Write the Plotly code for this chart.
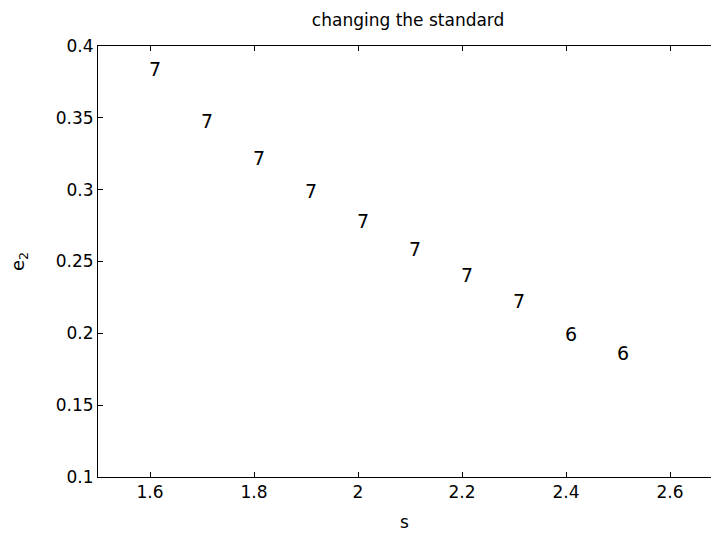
import plotly.graph_objects as go

# s values and the resulting e2, each point labelled with its count
s_vals = [1.6, 1.7, 1.8, 1.9, 2.0, 2.1, 2.2, 2.3, 2.4, 2.5]
e2_vals = [0.3843, 0.3481, 0.3217, 0.2994, 0.2785, 0.2584, 0.2405, 0.2224, 0.1992, 0.1860]
counts = ["7", "7", "7", "7", "7", "7", "7", "7", "6", "6"]

x_ticks = [1.6, 1.8, 2.0, 2.2, 2.4, 2.6]
x_tick_text = ["1.6", "1.8", "2", "2.2", "2.4", "2.6"]
y_ticks = [0.1, 0.15, 0.2, 0.25, 0.3, 0.35, 0.4]
y_tick_text = ["0.1", "0.15", "0.2", "0.25", "0.3", "0.35", "0.4"]

FONT = "DejaVu Sans"

fig = go.Figure()
fig.add_trace(go.Scatter(x=s_vals, y=e2_vals, mode="markers",
                         marker=dict(size=1, opacity=0), hoverinfo="skip",
                         showlegend=False))

# count labels, left-aligned at each (s, e2) point
for s, e, c in zip(s_vals, e2_vals, counts):
    fig.add_annotation(x=s, y=e, text=c, showarrow=False,
                       xanchor="left", yanchor="middle", xshift=-3,
                       font=dict(family=FONT, size=19, color="black"))

fig.update_layout(
    width=711, height=535,
    margin=dict(l=98, r=0, t=46, b=58),
    paper_bgcolor="white", plot_bgcolor="white",
    title=dict(text="changing the standard", x=0.574, xanchor="center",
               y=0.963, yanchor="middle",
               font=dict(family=FONT, size=17, color="black")),
    font=dict(family=FONT, size=17, color="black"),
    showlegend=False,
)
fig.update_xaxes(range=[1.5, 1.5 + 613 / 520], tickvals=x_ticks, ticktext=x_tick_text,
                 showgrid=False, zeroline=False, showline=True, linecolor="black",
                 linewidth=1, mirror="ticks", ticks="inside", ticklen=5,
                 tickcolor="black", title=dict(text="s", standoff=14,
                 font=dict(family=FONT, size=17)))
fig.update_yaxes(range=[0.1, 0.4], tickvals=y_ticks, ticktext=y_tick_text,
                 showgrid=False, zeroline=False, showline=True, linecolor="black",
                 linewidth=1, ticks="inside", ticklen=5, tickcolor="black",
                 title=dict(text="e<sub>2</sub>", standoff=26,
                            font=dict(family=FONT, size=18)))

fig.write_html("out.html")
